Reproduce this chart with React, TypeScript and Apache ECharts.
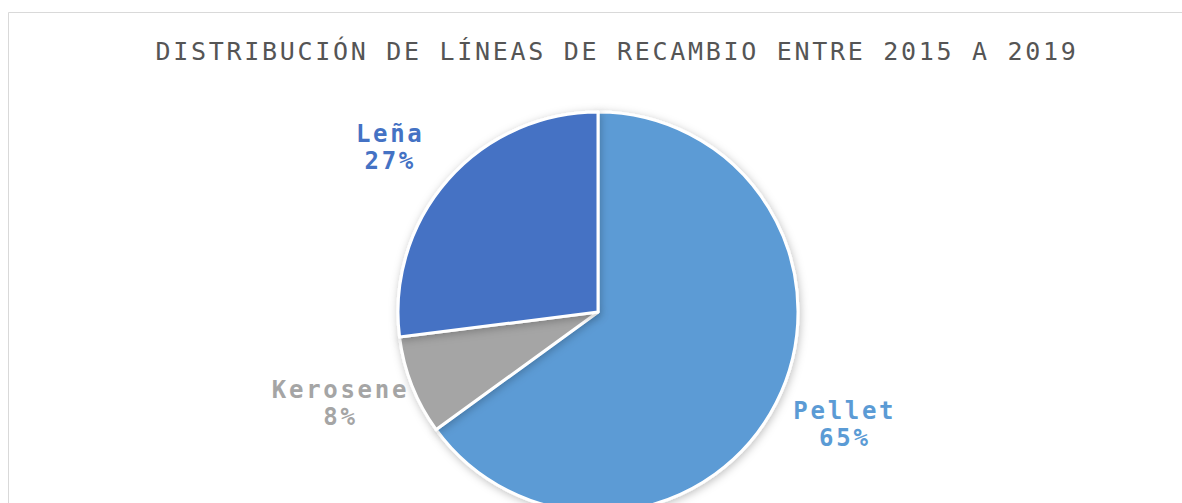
import React, { useEffect, useRef } from "react";
import * as echarts from "echarts";

const titleText = "DISTRIBUCIÓN DE LÍNEAS DE RECAMBIO ENTRE 2015 A 2019";
const categories = ["Pellet", "Kerosene", "Leña"];
const values = [65, 8, 27];
const colors = ["#5B9BD5", "#A5A5A5", "#4472C4"];

const CENTER = [598, 312];
const RADIUS = 200;
const LABEL_RX = 277;
const LABEL_RY = 248;

export default function App() {
  const ref = useRef<HTMLDivElement>(null);
  useEffect(() => {
    if (!ref.current) return;
    const chart = echarts.init(ref.current, null, { renderer: "svg" });
    const total = values.reduce((a, b) => a + b, 0);
    const mids: number[] = [];
    let acc = 0;
    values.forEach((v) => {
      const midFrac = (acc + v / 2) / total;
      acc += v;
      mids.push(Math.PI / 2 - midFrac * Math.PI * 2);
    });
    chart.setOption({
      animation: false,
      backgroundColor: "#ffffff",
      graphic: [
        {
          type: "rect",
          shape: { x: 8.5, y: 12.5, width: 1300, height: 700 },
          style: { fill: "none", stroke: "#d9d9d9", lineWidth: 1 },
          silent: true,
        },
      ],
      title: {
        text: titleText,
        left: 617,
        top: 39,
        textAlign: "center",
        padding: 0,
        textStyle: {
          fontFamily: "DejaVu Sans Mono",
          fontSize: 25,
          fontWeight: "normal",
          color: "#555555",
        },
      },
      series: [
        {
          type: "pie",
          center: CENTER,
          radius: RADIUS,
          startAngle: 90,
          clockwise: true,
          avoidLabelOverlap: false,
          percentPrecision: 0,
          itemStyle: {
            borderColor: "#ffffff",
            borderWidth: 3,
            shadowBlur: 8,
            shadowColor: "rgba(0,0,0,0.25)",
            shadowOffsetX: 1,
            shadowOffsetY: 2,
          },
          label: {
            show: true,
            position: "outside",
            formatter: "{b}\n{d}%",
            fontFamily: "DejaVu Sans Mono",
            fontSize: 24,
            fontWeight: "bold",
            lineHeight: 27,
          },
          labelLine: { show: false },
          labelLayout: (params: any) => {
            const a = mids[params.dataIndex];
            return {
              x: CENTER[0] + Math.cos(a) * LABEL_RX,
              y: CENTER[1] - Math.sin(a) * LABEL_RY,
              align: "center",
              verticalAlign: "middle",
            };
          },
          data: categories.map((name, i) => ({
            name,
            value: values[i],
            itemStyle: { color: colors[i] },
            label: { color: colors[i] },
          })),
        },
      ],
    });
    return () => chart.dispose();
  }, []);
  return (
    <div
      ref={ref}
      style={{
        position: "absolute",
        left: 0,
        top: 0,
        width: 1182,
        height: 503,
        letterSpacing: "2.7px",
      }}
    />
  );
}
